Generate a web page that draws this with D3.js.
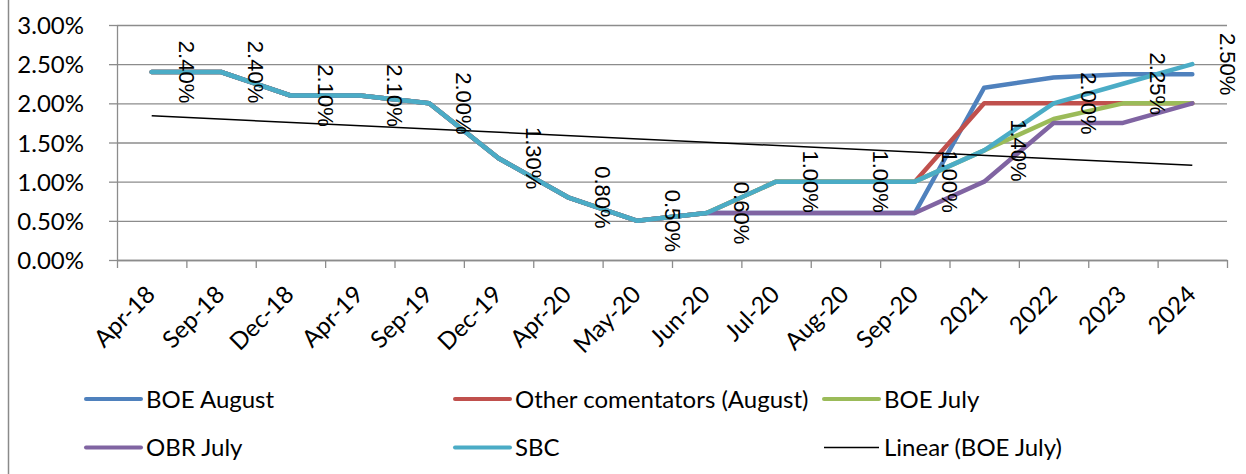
<!DOCTYPE html>
<html>
<head>
<meta charset="utf-8">
<script src="https://cdn.jsdelivr.net/npm/d3@7"></script>
<style>
  html, body { margin: 0; padding: 0; background: #ffffff; }
  svg { display: block; }
  .axis-text { font-family: Lato, "Open Sans", sans-serif; fill: #000; }
  .data-label { font-family: "Liberation Sans", Arial, sans-serif; fill: #000; }
</style>
</head>
<body>
<svg id="chart" width="1246" height="474"></svg>
<script>
// Interest rate paths (percent) by period
const categories = ["Apr-18", "Sep-18", "Dec-18", "Apr-19", "Sep-19", "Dec-19", "Apr-20", "May-20",
                    "Jun-20", "Jul-20", "Aug-20", "Sep-20", "2021", "2022", "2023", "2024"];
const boeAugust         = [2.40, 2.40, 2.10, 2.10, 2.00, 1.30, 0.80, 0.50, 0.60, 0.60, 0.60, 0.60, 2.20, 2.33, 2.37, 2.37];
const otherCommentators = [2.40, 2.40, 2.10, 2.10, 2.00, 1.30, 0.80, 0.50, 0.60, 1.00, 1.00, 1.00, 2.00, 2.00, 2.00, 2.00];
const boeJuly           = [2.40, 2.40, 2.10, 2.10, 2.00, 1.30, 0.80, 0.50, 0.60, 1.00, 1.00, 1.00, 1.40, 1.80, 2.00, 2.00];
const obrJuly           = [2.40, 2.40, 2.10, 2.10, 2.00, 1.30, 0.80, 0.50, 0.60, 0.60, 0.60, 0.60, 1.00, 1.75, 1.75, 2.00];
const sbc               = [2.40, 2.40, 2.10, 2.10, 2.00, 1.30, 0.80, 0.50, 0.60, 1.00, 1.00, 1.00, 1.40, 2.00, 2.25, 2.50];
const yTicks = [0, 0.5, 1.0, 1.5, 2.0, 2.5, 3.0];

const seriesNames  = ["BOE August", "Other comentators (August)", "BOE July", "OBR July", "SBC"];
const seriesValues = [boeAugust, otherCommentators, boeJuly, obrJuly, sbc];
const seriesColors = ["#4f81bd", "#c0504d", "#9bbb59", "#8064a2", "#4bacc6"];
const trendName = "Linear (BOE July)";

const svg = d3.select("#chart");
const plot = { left: 117, right: 1227, top: 25, bottom: 260 };
const gridColor = "#8c8c8c";

const x = d3.scaleBand().domain(categories).range([plot.left, plot.right]).padding(0);
const cx = c => x(c) + x.bandwidth() / 2;
const xEdge = d3.scaleLinear().domain([0, categories.length]).range([plot.left, plot.right]);
const y = d3.scaleLinear().domain([0, 3]).range([plot.bottom, plot.top]);
const pct = v => d3.format(".2f")(v) + "%";

// outer chart border (left edge)
svg.append("line")
  .attr("x1", 8.5).attr("x2", 8.5).attr("y1", 0).attr("y2", 474)
  .attr("stroke", "#8a8a8a").attr("stroke-width", 1.5);

// horizontal gridlines
const grid = svg.append("g")
  .attr("transform", `translate(${plot.left},0)`)
  .call(d3.axisLeft(y).tickValues(yTicks).tickSize(-(plot.right - plot.left)).tickFormat(""));
grid.select(".domain").remove();
grid.selectAll("line").attr("stroke", gridColor).attr("stroke-width", 1.3);

// y axis
const yAxis = svg.append("g")
  .attr("transform", `translate(${plot.left},0)`)
  .call(d3.axisLeft(y).tickValues(yTicks).tickSize(8).tickSizeOuter(0).tickPadding(25).tickFormat(pct));
yAxis.select(".domain").attr("stroke", gridColor).attr("stroke-width", 1.3);
yAxis.selectAll(".tick line").attr("stroke", gridColor).attr("stroke-width", 1.3);
yAxis.selectAll(".tick text")
  .attr("class", "axis-text")
  .style("font-size", "24px")
  .attr("dy", "0.36em");

// x axis: tick marks on category boundaries
const xAxis = svg.append("g")
  .attr("transform", `translate(0,${plot.bottom})`)
  .call(d3.axisBottom(xEdge).tickValues(d3.range(categories.length + 1)).tickSize(8).tickSizeOuter(0).tickFormat(""));
xAxis.select(".domain").attr("stroke", gridColor).attr("stroke-width", 1.3);
xAxis.selectAll(".tick line").attr("stroke", gridColor).attr("stroke-width", 1.3);

// rotated category labels
svg.append("g").selectAll("text")
  .data(categories)
  .join("text")
  .attr("class", "axis-text")
  .style("font-size", "24px")
  .attr("text-anchor", "end")
  .attr("transform", c => `translate(${cx(c) + 5},${plot.bottom + 36}) rotate(-45)`)
  .text(c => c);

// series lines
const line = d3.line()
  .x((d, i) => cx(categories[i]))
  .y(d => y(d));

svg.append("g").selectAll("path")
  .data(seriesValues)
  .join("path")
  .attr("fill", "none")
  .attr("stroke", (d, i) => seriesColors[i])
  .attr("stroke-width", 4.5)
  .attr("stroke-linejoin", "round")
  .attr("stroke-linecap", "round")
  .attr("d", line);

// least-squares trend of BOE July
const xs = boeJuly.map((d, i) => i + 1);
const mx = d3.mean(xs), my = d3.mean(boeJuly);
const slope = d3.sum(xs, (xv, i) => (xv - mx) * (boeJuly[i] - my)) / d3.sum(xs, xv => (xv - mx) ** 2);
const intercept = my - slope * mx;
const trend = [1, categories.length].map(k => ({ c: categories[k - 1], v: intercept + slope * k }));
svg.append("line")
  .attr("x1", cx(trend[0].c)).attr("y1", y(trend[0].v))
  .attr("x2", cx(trend[1].c)).attr("y2", y(trend[1].v))
  .attr("stroke", "#000").attr("stroke-width", 1.5);

// data labels for SBC, rotated
svg.append("g").selectAll("text")
  .data(sbc)
  .join("text")
  .attr("class", "data-label")
  .style("font-size", "22px")
  .attr("text-anchor", "middle")
  .attr("dominant-baseline", "central")
  .attr("transform", (d, i) => `translate(${cx(categories[i]) + x.bandwidth() / 2},${y(d)}) rotate(90)`)
  .text(d => pct(d));

// legend
const legendItems = seriesNames.map((n, i) => ({ name: n, color: seriesColors[i], width: 4 }))
  .concat([{ name: trendName, color: "#000", width: 1.5 }]);
const legend = svg.append("g").selectAll("g")
  .data(legendItems)
  .join("g")
  .attr("transform", (d, i) => `translate(${86 + (i % 3) * 369},${399 + Math.floor(i / 3) * 48.5})`);
legend.append("line")
  .attr("x1", 0).attr("x2", 55).attr("y1", 0).attr("y2", 0)
  .attr("stroke", d => d.color)
  .attr("stroke-width", d => d.width)
  .attr("stroke-linecap", d => d.width > 2 ? "round" : "butt");
legend.append("text")
  .attr("class", "axis-text")
  .style("font-size", "24px")
  .attr("x", 60)
  .attr("dy", "0.36em")
  .text(d => d.name);
</script>
</body>
</html>
